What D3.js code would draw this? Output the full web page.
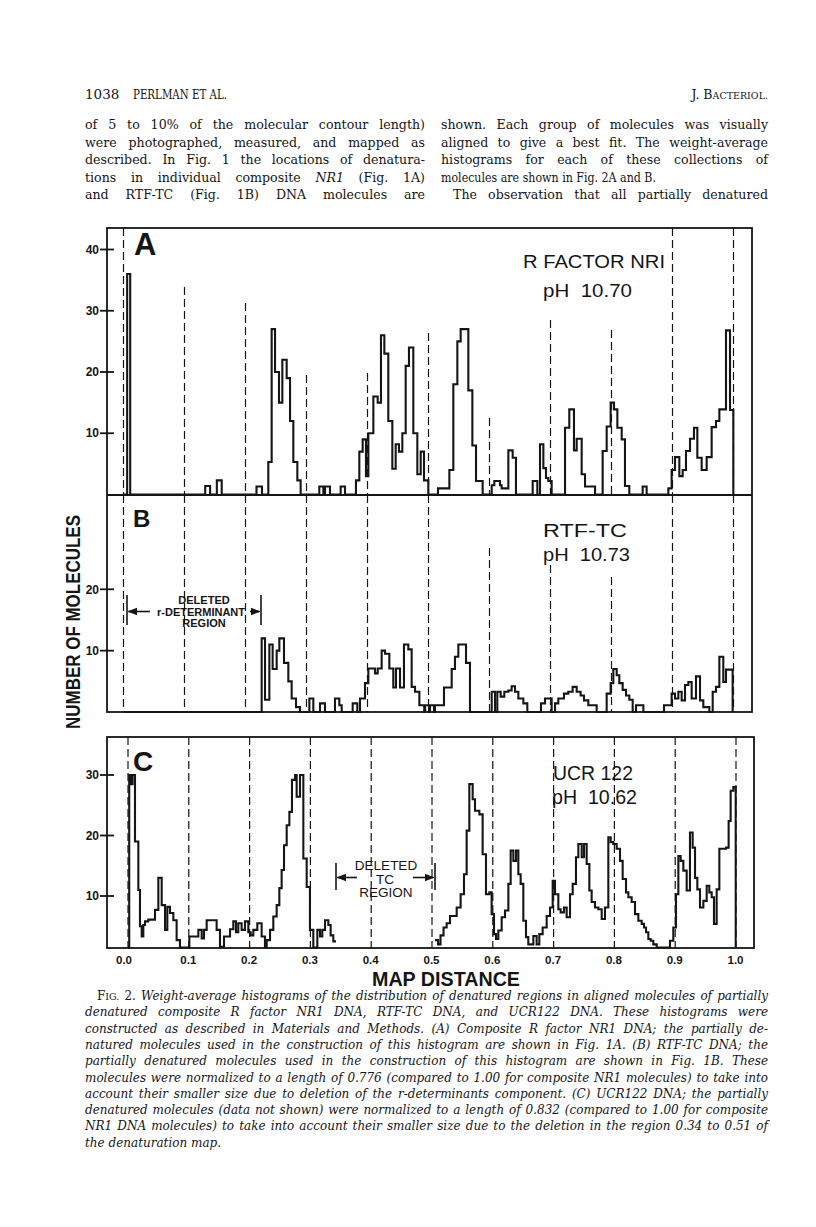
<!DOCTYPE html>
<html><head><meta charset="utf-8">
<script src="https://cdn.jsdelivr.net/npm/d3@7"></script>
<style>
html,body{margin:0;padding:0;background:#fff;}
svg{display:block;}
text{white-space:pre;}
</style></head>
<body>
<svg id="page" width="816" height="1227"></svg>
<script>
// ---------------- DATA ----------------
const mapTicks = [0, 0.1, 0.2, 0.3, 0.4, 0.5, 0.6, 0.7, 0.8, 0.9, 1.0];
const mapTickLabels = ["0.0","0.1","0.2","0.3","0.4","0.5","0.6","0.7","0.8","0.9","1.0"];
const yTicksA = [10, 20, 30, 40];
const yTicksB = [10, 20];
const yTicksC = [10, 20, 30];

// step histograms: [map distance where the step starts, number of molecules]
const histA = [
  [0,0],[0.006,36],[0.011,0],
  [0.134,1.4],[0.142,0],[0.153,2.3],[0.161,0],[0.218,1.3],[0.227,0],
  [0.2374,5.3],[0.2429,27],[0.2484,20],[0.2549,15],[0.2604,22],[0.2675,19],[0.2730,12],[0.2784,5.3],[0.2850,2.3],[0.2904,0],
  [0.321,1.3],[0.3276,0],[0.3303,1.3],[0.3385,0],[0.356,1.3],[0.3631,0],
  [0.3811,2.3],[0.3866,7],[0.3921,9],[0.3975,3],[0.4014,10],[0.4096,16],[0.4167,15],[0.4221,26],[0.4276,23],[0.4341,12],
  [0.4407,4.2],[0.4462,8.2],[0.4516,7],[0.4571,10],[0.4626,21],[0.4680,24],[0.4751,10],[0.4817,3.3],[0.4872,7],[0.4926,2.3],[0.4997,0],
  [0.5156,1],[0.5342,4],[0.5407,18],[0.5473,25],[0.5527,27],[0.5653,17],[0.5719,8],[0.5779,2.2],[0.5888,0],
  [0.6036,1.5],[0.6079,2.2],[0.6172,1.5],[0.6199,1],[0.6309,7.2],[0.6380,6],[0.6434,0],
  [0.6708,2.2],[0.6784,0],[0.6828,8.2],[0.6883,4.3],[0.6926,2.7],[0.6964,2.2],[0.7019,0],
  [0.7238,10.9],[0.7308,13.9],[0.7385,7.2],[0.7429,9.1],[0.7511,3.3],[0.7566,1.3],[0.7730,0],
  [0.7855,7.1],[0.7921,11.1],[0.7986,15],[0.8041,13.9],[0.8096,10.9],[0.8167,9],[0.8221,1.4],[0.8292,0],
  [0.8511,1.3],[0.8576,0],
  [0.8932,1],[0.8986,4],[0.9041,6.1],[0.9112,3],[0.9167,4],[0.9221,7.1],[0.9287,9.1],[0.9352,10.9],[0.9407,6],[0.9478,4],
  [0.9560,6.1],[0.9642,11],[0.9713,12],[0.9768,13.9],[0.9877,26.8],[0.9943,13.8],[0.9997,0]
];

const histB = [
  [0,0],
  [0.2265,12],[0.2320,2],[0.2391,11],[0.2445,7],[0.2511,10],[0.2555,12],[0.2631,8],[0.2702,5],[0.2757,2.2],[0.2828,0.8],[0.2893,0],
  [0.3047,2.2],[0.3112,0],[0.3221,1.4],[0.3303,0],[0.3467,2.2],[0.3538,1.1],[0.3577,0],[0.3757,1.4],[0.3833,0],
  [0.3877,2.2],[0.3959,4.7],[0.4014,7.1],[0.4123,6.3],[0.4167,7.1],[0.4232,10],[0.4287,9.5],[0.4358,7.1],[0.4423,4],[0.4467,7.1],
  [0.4533,4],[0.4598,11],[0.4669,10.2],[0.4724,4.1],[0.4779,3.3],[0.4850,1.1],
  [0.4930,0],[0.4945,1.1],[0.5010,0],[0.5025,1.1],[0.5090,0],[0.5105,1.1],
  [0.5254,4],[0.5380,7],[0.5434,9],[0.5489,11],[0.5615,8],[0.5680,0],
  [0.6036,3.3],[0.6090,0],[0.6128,3.3],[0.6183,2.5],[0.6243,3.3],[0.6309,3.5],[0.6363,4.2],[0.6418,3.3],[0.6473,2.2],[0.6555,1.4],[0.6620,0],
  [0.6844,1.4],[0.6910,2.2],[0.7019,0],
  [0.7074,1.4],[0.7128,2.2],[0.7221,3],[0.7292,3.3],[0.7363,4.1],[0.7429,3.3],[0.7494,2.7],[0.7549,1.9],[0.7620,1.1],[0.7757,0],
  [0.7921,3],[0.7986,4.7],[0.8030,7],[0.8085,6],[0.8128,4.7],[0.8183,3.6],[0.8238,2.7],[0.8292,2],[0.8347,0],[0.8402,1.1],[0.8522,0],
  [0.8861,1.1],[0.8986,3],[0.9041,2.2],[0.9096,3.3],[0.9150,1.9],[0.9205,4.4],[0.9260,4.9],[0.9314,2.2],[0.9385,5.8],[0.9451,1.9],[0.9505,0.8],[0.9604,0],
  [0.9659,3.3],[0.9713,4.1],[0.9768,9],[0.9833,4.9],[0.9877,6.9],[0.9986,0]
];

// null = no line (deleted TC region)
const histC = [
  [0,1.5],[0.002,30],[0.005,28.5],[0.0075,30],[0.0115,19],[0.0170,11],[0.0197,5],[0.0225,3.3],[0.0252,5.2],[0.0280,5.8],[0.0334,6.1],
  [0.0444,7.7],[0.0499,13],[0.0554,8.5],[0.0609,4.4],[0.0647,8.2],[0.0691,7.2],[0.0746,6],[0.0800,2.7],[0.0855,1.5],
  [0.1009,3.3],[0.1157,4.4],[0.1212,3],[0.1250,4.4],[0.1294,6],[0.1458,4.4],[0.1513,1.6],[0.1579,3.3],[0.1678,4.5],[0.1732,5.8],
  [0.1776,4],[0.1814,5.5],[0.1869,4.4],[0.1924,5.8],[0.1979,4],[0.2018,3.5],[0.2061,4.4],[0.2127,5.5],[0.2198,3.3],[0.2253,1.5],
  [0.2281,2.7],[0.2336,4.4],[0.2390,6.6],[0.2445,8.5],[0.2489,11.3],[0.2527,14.3],[0.2566,18.4],[0.2610,21.7],[0.2654,23.9],[0.2697,29.2],
  [0.2747,30],[0.2774,26.4],[0.2829,30],[0.2884,16.2],[0.2939,11.5],[0.2993,4.4],[0.3048,1.5],[0.3114,4.4],[0.3158,3.3],[0.3196,4.4],
  [0.3240,6],[0.3295,5.2],[0.3333,3.5],[0.3377,2.5],[0.3421,2.5],[0.3422,null],
  [0.5049,2.7],[0.5100,2],[0.5140,3.5],[0.5190,4.8],[0.5241,5.5],[0.5296,6.7],[0.5406,8.1],[0.5471,10.3],[0.5526,13.6],[0.5570,20.8],
  [0.5614,28.5],[0.5669,26],[0.5707,24.1],[0.5779,23.5],[0.5833,16.9],[0.5888,10.3],[0.5943,10.6],[0.5981,7],[0.6020,3.7],[0.6053,2.9],
  [0.6091,4.3],[0.6146,6.5],[0.6201,7.6],[0.6256,12],[0.6294,17.5],[0.6338,15.8],[0.6382,17.5],[0.6420,13.6],[0.6458,12],[0.6502,5.9],
  [0.6546,3.2],[0.6584,2],[0.6667,3.4],[0.6721,2],[0.6765,3.7],[0.6820,4.8],[0.6886,6.7],[0.6941,8.1],[0.6985,12.5],[0.7023,10.3],
  [0.7078,7.8],[0.7116,7.3],[0.7171,8.1],[0.7215,6.5],[0.7270,10.3],[0.7314,12],[0.7368,16.4],[0.7407,18.6],[0.7462,16.4],[0.7500,18.6],
  [0.7544,15.3],[0.7588,10.9],[0.7626,9],[0.7681,8.1],[0.7736,7.8],[0.7791,6.2],[0.7845,8.1],[0.7900,19.7],[0.7939,18.9],[0.7982,18.6],
  [0.8037,17.8],[0.8092,15.8],[0.8136,12.8],[0.8191,10.6],[0.8230,9.8],[0.8284,9],[0.8339,7],[0.8394,5.9],[0.8449,5.4],[0.8487,4.8],
  [0.8520,4],[0.8558,2.9],[0.8596,2.6],[0.8640,2],[0.8695,1.5],
  [0.8914,2.6],[0.8969,4.8],[0.9013,10.3],[0.9052,16.6],[0.9090,15.8],[0.9134,14.2],[0.9189,10.9],[0.9243,20.5],[0.9287,18],[0.9326,13],
  [0.9364,11.1],[0.9408,8.1],[0.9463,9.2],[0.9518,11.7],[0.9561,10.6],[0.9600,9.8],[0.9638,5.4],[0.9682,11.1],[0.9726,17.8],[0.9781,17.8],
  [0.9836,18],[0.9879,22.4],[0.9912,27.4],[0.9956,28],[0.9995,1.5]
];

const panelTitlesA = ["R FACTOR NRI", "pH  10.70"];
const panelTitlesB = ["RTF-TC", "pH  10.73"];
const panelTitlesC = ["UCR 122", "pH  10.62"];

const bodyLeft = [
  "of 5 to 10% of the molecular contour length)",
  "were photographed, measured, and mapped as",
  "described. In Fig. 1 the locations of denatura-",
  "tions in individual composite *NR1* (Fig. 1A)",
  "and RTF-TC (Fig. 1B) DNA molecules are"
];
const bodyRight = [
  "shown. Each group of molecules was visually",
  "aligned to give a best fit. The weight-average",
  "histograms for each of these collections of",
  "molecules are shown in Fig. 2A and B.",
  "The observation that all partially denatured"
];
const captionLines = [
  "Weight-average histograms of the distribution of denatured regions in aligned molecules of partially",
  "denatured composite R factor NR1 DNA, RTF-TC DNA, and UCR122 DNA. These histograms were",
  "constructed as described in Materials and Methods. (A) Composite R factor NR1 DNA; the partially de-",
  "natured molecules used in the construction of this histogram are shown in Fig. 1A. (B) RTF-TC DNA; the",
  "partially denatured molecules used in the construction of this histogram are shown in Fig. 1B. These",
  "molecules were normalized to a length of 0.776 (compared to 1.00 for composite NR1 molecules) to take into",
  "account their smaller size due to deletion of the r-determinants component. (C) UCR122 DNA; the partially",
  "denatured molecules (data not shown) were normalized to a length of 0.832 (compared to 1.00 for composite",
  "NR1 DNA molecules) to take into account their smaller size due to the deletion in the region 0.34 to 0.51 of",
  "the denaturation map."
];

// ---------------- DRAWING ----------------
const ink = "#151515";
const svg = d3.select("#page");
const serif = "'DejaVu Serif','Liberation Serif',serif";
const sans = "'Liberation Sans',Arial,Helvetica,sans-serif";

function justify(sel, target) {
  const node = sel.node();
  const nat = node.getComputedTextLength();
  const n = (sel.text().match(/ /g) || []).length;
  if (n > 0 && target > nat) sel.style("word-spacing", ((target - nat) / n) + "px");
  else if (target < nat) sel.attr("textLength", target).attr("lengthAdjust", "spacingAndGlyphs");
}
function richLine(parent, str, x, y, size, baseItalic) {
  const t = parent.append("text").attr("x", x).attr("y", y)
    .attr("font-family", serif).attr("font-size", size).attr("fill", ink);
  str.split("*").forEach((p, i) => {
    if (!p) return;
    const it = (i % 2 === 1) !== baseItalic;
    t.append("tspan").attr("font-style", it ? "italic" : "normal").text(p);
  });
  return t;
}

// header
svg.append("text").attr("x", 85).attr("y", 99).attr("font-family", serif).attr("font-size", 13.5).attr("fill", ink).text("1038");
svg.append("text").attr("x", 133).attr("y", 99).attr("font-family", serif).attr("font-size", 12.5).attr("fill", ink)
  .attr("textLength", 94).attr("lengthAdjust", "spacingAndGlyphs").text("PERLMAN ET AL.");
const jb = svg.append("text").attr("x", 768).attr("y", 99).attr("text-anchor", "end").attr("font-family", serif).attr("fill", ink);
jb.append("tspan").attr("font-size", 12.5).text("J. B");
jb.append("tspan").attr("font-size", 9.5).text("ACTERIOL.");

// body columns
const bodyY = [129, 146.5, 164, 181.5, 199];
const bodyFs = 12.6;
bodyLeft.forEach((s, i) => {
  const t = richLine(svg, s, 85, bodyY[i], bodyFs, false);
  justify(t, 340);
});
bodyRight.forEach((s, i) => {
  const x = i === 4 ? 453 : 441;
  const t = richLine(svg, s, x, bodyY[i], bodyFs, false);
  if (i !== 3) justify(t, 768 - x);
  else t.attr("textLength", 215).attr("lengthAdjust", "spacingAndGlyphs");
});

// scales
const xAB = d3.scaleLinear().domain([0, 1]).range([123.5, 733.5]);
const xC = d3.scaleLinear().domain([0, 1]).range([128, 736]);
const yA = d3.scaleLinear().domain([0, 40]).range([494.5, 249.5]);
const yB = d3.scaleLinear().domain([0, 20]).range([712, 589.3]);
const yC = d3.scaleLinear().domain([0, 30]).range([956.5, 775]);

const L = 107, R_AB = 752, R_C = 754;
const topA = 228, midAB = 495, botB = 712, topC = 737, botC = 948;

// dashed reference lines (top of each dashed line, per panel)
const dashTopA = [topA, 287, 303, 375, 373, 333, 418, 320, 330, topA, topA];
const dashTopB = [midAB, midAB, midAB, midAB, midAB, midAB, 548, 565, 577, midAB, midAB];
function dashed(x, tops, bottom) {
  svg.append("g").selectAll("line").data(mapTicks).join("line")
    .attr("x1", d => x(d)).attr("x2", d => x(d))
    .attr("y1", (d, i) => tops[i]).attr("y2", bottom)
    .attr("stroke", ink).attr("stroke-width", 1.2).attr("stroke-dasharray", "8,4");
}
dashed(xAB, dashTopA, midAB);
dashed(xAB, dashTopB, botB);
dashed(xC, mapTicks.map(() => topC), botC);

// histograms
function histo(data, x, y, floorY) {
  const ln = d3.line().defined(d => d[1] !== null)
    .x(d => x(d[0])).y(d => Math.min(y(d[1]), floorY)).curve(d3.curveStepAfter);
  svg.append("path").attr("d", ln(data)).attr("fill", "none").attr("stroke", ink)
    .attr("stroke-width", 2.1).attr("stroke-linejoin", "miter");
}
histo(histA, xAB, yA, midAB);
histo(histB, xAB, yB, botB);
histo(histC, xC, yC, botC - 0.5);

// frames
const fr = svg.append("g").attr("fill", "none").attr("stroke", ink).attr("stroke-width", 1.8);
fr.append("rect").attr("x", L).attr("y", topA).attr("width", R_AB - L).attr("height", botB - topA);
fr.append("line").attr("x1", L).attr("x2", R_AB).attr("y1", midAB).attr("y2", midAB);
fr.append("rect").attr("x", L).attr("y", topC).attr("width", R_C - L).attr("height", botC - topC);

// y ticks
function yTicks(ticks, y) {
  const g = svg.append("g");
  g.selectAll("line").data(ticks).join("line")
    .attr("x1", 100).attr("x2", 114).attr("y1", d => y(d)).attr("y2", d => y(d))
    .attr("stroke", ink).attr("stroke-width", 1.8);
  g.selectAll("text").data(ticks).join("text")
    .attr("x", 99).attr("y", d => y(d) + 4.2).attr("text-anchor", "end")
    .attr("font-family", sans).attr("font-weight", "bold").attr("font-size", 12).attr("fill", ink)
    .text(d => d);
}
yTicks(yTicksA, yA);
yTicks(yTicksB, yB);
yTicks(yTicksC, yC);

// x tick labels (panel C)
svg.append("g").selectAll("text").data(mapTicks).join("text")
  .attr("x", (d, i) => xC(d) - (i === 0 ? 4 : 0.5)).attr("y", 964).attr("text-anchor", "middle")
  .attr("font-family", sans).attr("font-weight", "bold").attr("font-size", 11.5).attr("fill", ink)
  .text((d, i) => mapTickLabels[i]);

// axis titles
svg.append("text").attr("x", 372).attr("y", 986).attr("font-family", sans).attr("font-weight", "bold")
  .attr("font-size", 21).attr("fill", ink).attr("textLength", 148).attr("lengthAdjust", "spacingAndGlyphs").text("MAP DISTANCE");
svg.append("text").attr("transform", "translate(80,729) rotate(-90)").attr("font-family", sans).attr("font-weight", "bold")
  .attr("font-size", 20).attr("fill", ink).attr("textLength", 214).attr("lengthAdjust", "spacingAndGlyphs").text("NUMBER OF MOLECULES");

// panel letters
[["A", 134, 255, 31], ["B", 133, 527, 24], ["C", 133, 771, 28]].forEach(([s, x, y, fs]) => {
  svg.append("text").attr("x", x).attr("y", y).attr("font-family", sans).attr("font-weight", "bold")
    .attr("font-size", fs).attr("fill", ink).text(s);
});

// panel titles
function title(lines, x1, y1, len1, x2, y2, len2, fs) {
  svg.append("text").attr("x", x1).attr("y", y1).attr("font-family", sans).attr("font-size", fs).attr("fill", ink)
    .attr("textLength", len1).attr("lengthAdjust", "spacingAndGlyphs").text(lines[0]);
  svg.append("text").attr("x", x2).attr("y", y2).attr("font-family", sans).attr("font-size", fs).attr("fill", ink)
    .attr("textLength", len2).attr("lengthAdjust", "spacingAndGlyphs").text(lines[1]);
}
title(panelTitlesA, 523, 268, 142, 543, 297, 89, 18);
title(panelTitlesB, 543, 537, 84, 543, 561, 87, 18.5);
title(panelTitlesC, 553, 780, 80, 552, 804, 85, 21);

// deleted-region annotations
const defs = svg.append("defs");
defs.append("marker").attr("id", "ah").attr("viewBox", "0 0 10 10").attr("refX", 9).attr("refY", 5)
  .attr("markerWidth", 6).attr("markerHeight", 6).attr("orient", "auto-start-reverse")
  .append("path").attr("d", "M0,1 L10,5 L0,9 Z").attr("fill", ink);

function bracket(xl, xr, yTop, yBot, yArr, al2, ar1) {
  const g = svg.append("g").attr("stroke", ink).attr("stroke-width", 1.6);
  g.append("line").attr("x1", xl).attr("x2", xl).attr("y1", yTop).attr("y2", yBot);
  g.append("line").attr("x1", xr).attr("x2", xr).attr("y1", yTop).attr("y2", yBot);
  g.append("line").attr("x1", al2).attr("x2", xl + 1.5).attr("y1", yArr).attr("y2", yArr).attr("marker-end", "url(#ah)");
  g.append("line").attr("x1", ar1).attr("x2", xr - 1.5).attr("y1", yArr).attr("y2", yArr).attr("marker-end", "url(#ah)");
}
bracket(127, 261, 595, 625, 611.5, 150, 250);
const bTxt = svg.append("g").attr("font-family", sans).attr("font-weight", "bold").attr("font-size", 11)
  .attr("fill", ink).attr("text-anchor", "middle");
bTxt.append("text").attr("x", 204).attr("y", 604).text("DELETED");
bTxt.append("text").attr("x", 201).attr("y", 615.5).text("r-DETERMINANT");
bTxt.append("text").attr("x", 204).attr("y", 627).text("REGION");

bracket(336, 435, 863, 890, 877.5, 357, 413);
const cTxt = svg.append("g").attr("font-family", sans).attr("font-size", 13.5)
  .attr("fill", ink).attr("text-anchor", "middle");
cTxt.append("text").attr("x", 386).attr("y", 870).text("DELETED");
cTxt.append("text").attr("x", 385).attr("y", 883.5).text("TC");
cTxt.append("text").attr("x", 386).attr("y", 897).text("REGION");

// caption
const capY0 = 1000, capDy = 16.3, capFs = 12;
const c0 = svg.append("text").attr("x", 97).attr("y", capY0).attr("font-family", serif).attr("font-size", capFs).attr("fill", ink);
c0.append("tspan").text("F");
c0.append("tspan").attr("font-size", 9.5).text("IG.");
c0.append("tspan").text(" 2. ");
c0.append("tspan").attr("font-style", "italic").text(captionLines[0]);
justify(c0, 768 - 97);
captionLines.slice(1).forEach((s, i) => {
  const t = richLine(svg, s, 85, capY0 + capDy * (i + 1), capFs, true);
  if (i < captionLines.length - 2) justify(t, 768 - 85);
});
</script>
</body></html>
